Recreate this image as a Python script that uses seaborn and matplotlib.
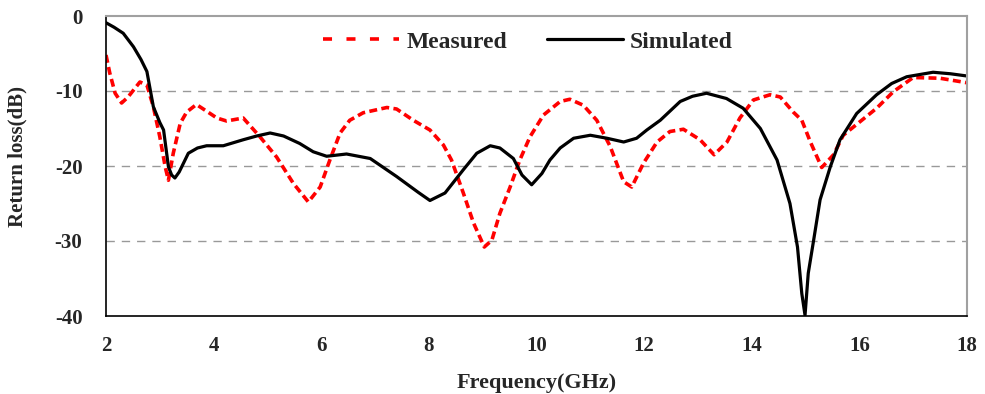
import matplotlib
matplotlib.use("Agg")
import matplotlib.pyplot as plt
import seaborn as sns
import pandas as pd

# Simulated (black solid)
sim_f = [2.0, 2.15, 2.32, 2.51, 2.65, 2.76, 2.88, 3.0, 3.07, 3.16, 3.22, 3.28, 3.36, 3.53,
         3.70, 3.87, 4.18, 4.55, 4.80, 5.05, 5.30, 5.60, 5.85, 6.10, 6.47, 6.91, 7.40,
         7.80, 8.02, 8.30, 8.64, 8.89, 9.14, 9.32, 9.57, 9.73, 9.91, 10.10, 10.25,
         10.44, 10.69, 11.0, 11.31, 11.62, 11.86, 12.05, 12.30, 12.67, 12.90, 13.16,
         13.53, 13.84, 14.16, 14.47, 14.71, 14.85, 14.93, 14.99, 15.05, 15.15, 15.27,
         15.46, 15.64, 15.95, 16.32, 16.60, 16.88, 17.37, 17.69, 18.0]
sim_db = [-0.9, -1.5, -2.3, -4.1, -5.8, -7.4, -12.1, -14.2, -15.2, -20.1, -21.2, -21.6,
          -20.8, -18.3, -17.6, -17.3, -17.3, -16.5, -16.0, -15.6, -16.0, -17.0, -18.1,
          -18.7, -18.4, -19.0, -21.4, -23.5, -24.6, -23.6, -20.5, -18.3, -17.3, -17.6,
          -19.0, -21.2, -22.5, -21.0, -19.2, -17.6, -16.3, -15.9, -16.3, -16.8, -16.3,
          -15.2, -13.9, -11.4, -10.7, -10.3, -11.0, -12.3, -15.0, -19.2, -25.0, -30.8,
          -37.0, -39.9, -34.3, -29.9, -24.5, -20.1, -16.5, -13.0, -10.5, -9.0, -8.1,
          -7.5, -7.7, -8.0]

# Measured (red dashed)
meas_f = [2.0, 2.07, 2.17, 2.29, 2.41, 2.63, 2.76, 2.88, 3.0, 3.10, 3.16, 3.25, 3.38,
          3.50, 3.68, 3.85, 4.06, 4.24, 4.55, 4.86, 5.17, 5.48, 5.76, 5.98, 6.16, 6.35,
          6.53, 6.78, 7.22, 7.40, 7.71, 8.02, 8.27, 8.42, 8.64, 8.83, 9.03, 9.17, 9.32,
          9.51, 9.69, 9.88, 10.13, 10.44, 10.62, 10.87, 11.12, 11.37, 11.62, 11.77,
          11.99, 12.24, 12.48, 12.73, 13.04, 13.30, 13.54, 13.78, 14.03, 14.34, 14.53,
          14.77, 14.93, 15.09, 15.30, 15.52, 15.70, 16.01, 16.32, 16.63, 17.0, 17.5, 18.0]
meas_db = [-5.2, -7.6, -10.3, -11.6, -10.8, -8.8, -9.2, -12.1, -16.1, -20.1, -21.9,
           -18.3, -14.3, -12.8, -11.8, -12.6, -13.6, -14.0, -13.6, -16.1, -18.8, -22.3,
           -24.8, -22.8, -19.2, -15.6, -13.9, -12.9, -12.2, -12.4, -13.9, -15.2, -17.2,
           -19.2, -23.6, -27.6, -30.8, -29.9, -26.3, -22.8, -19.2, -16.1, -13.2, -11.4,
           -11.1, -11.9, -13.9, -17.4, -22.1, -22.8, -19.6, -16.8, -15.4, -15.1, -16.5,
           -18.5, -16.8, -13.6, -11.2, -10.5, -10.8, -12.8, -13.9, -16.8, -20.2, -18.5,
           -15.9, -14.1, -12.3, -10.1, -8.2, -8.3, -8.9]

x_ticks = [2, 4, 6, 8, 10, 12, 14, 16, 18]
y_ticks = [0, -10, -20, -30, -40]
grid_levels = [-10, -20, -30]

sns.set_style("white")
plt.rcParams['font.family'] = ['Liberation Serif', 'DejaVu Serif']
plt.rcParams['font.weight'] = 'bold'

W, H = 985, 394
fig = plt.figure(figsize=(W / 100, H / 100), dpi=100)
ax = fig.add_axes([106 / W, 1 - 316 / H, (967 - 106) / W, 300 / H])

df_m = pd.DataFrame({"f": meas_f, "db": meas_db})
df_s = pd.DataFrame({"f": sim_f, "db": sim_db})

sns.lineplot(data=df_m, x="f", y="db", ax=ax, color="#ff0000", lw=2.6,
             label="Measured", sort=False)
ax.lines[-1].set_dashes((2.2, 1.2))
sns.lineplot(data=df_s, x="f", y="db", ax=ax, color="black", lw=2.3,
             label="Simulated", sort=False)

ax.set_xlim(2, 18)
ax.set_ylim(-40, 0)
ax.set_xticks(x_ticks)
ax.set_yticks(y_ticks)
ax.set_xticklabels([str(t) for t in x_ticks], fontsize=15, fontweight='bold')
ax.set_yticklabels([str(t) for t in y_ticks], fontsize=15, fontweight='bold')
for y in grid_levels:
    ax.axhline(y, color="#999999", lw=1.0, ls=(0, (6, 5)), zorder=0)

ax.tick_params(axis='x', direction='out', length=4.5, width=1, color='black', pad=10)
ax.tick_params(axis='y', direction='out', length=6, width=1, color='black', pad=11)
for side in ['left', 'bottom']:
    ax.spines[side].set_color('black')
    ax.spines[side].set_linewidth(1.2)
for side in ['top', 'right']:
    ax.spines[side].set_visible(True)
    ax.spines[side].set_color('#a0a0a0')
    ax.spines[side].set_linewidth(1.5)

ax.set_xlabel("Frequency(GHz)", fontsize=16, fontweight='bold')
ax.xaxis.set_label_coords(0.5, (316 - 373) / 300)
ax.set_ylabel("Return loss(dB)", fontsize=15, fontweight='bold')
ax.yaxis.set_label_coords((27 - 106) / 861, (316 - 156.5) / 300)

leg = ax.legend(loc='center', bbox_to_anchor=((528 - 106) / 861, 1 - (42 - 16) / 300),
                ncol=2, frameon=False,
                prop={'family': 'Liberation Serif', 'weight': 'bold', 'size': 17},
                handlelength=3.2, columnspacing=1.7, handletextpad=0.3)
leg.get_lines()[0].set_dashes((2.5, 4.0))

fig.savefig("out.png", dpi=100)
